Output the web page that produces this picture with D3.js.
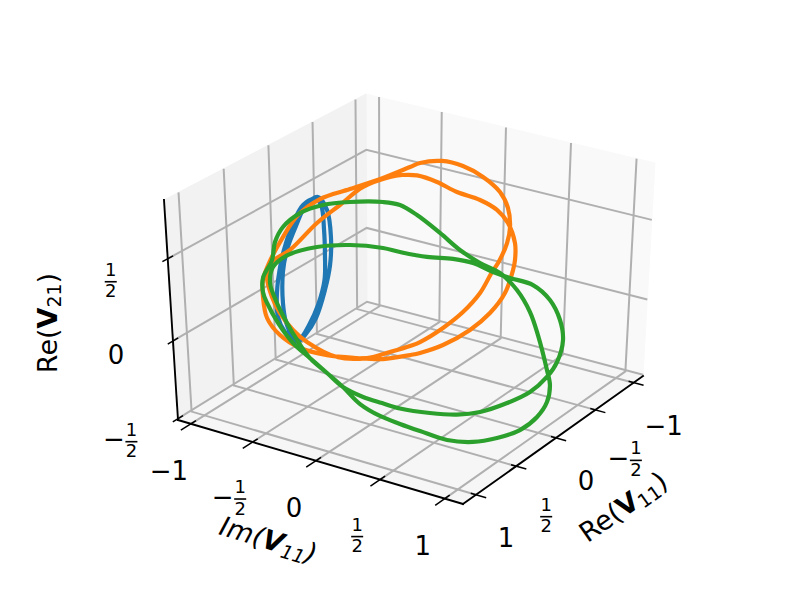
<!DOCTYPE html>
<html><head><meta charset="utf-8">
<style>html,body{margin:0;padding:0;background:#fff}svg{display:block}text{font-family:"DejaVu Sans",sans-serif;fill:#000}</style>
<script src="https://cdn.jsdelivr.net/npm/d3@7/dist/d3.min.js"></script>
</head><body><svg id="c" width="789" height="592"></svg>
<script>
// ---- axis data
const xLim=[-1.13,1.16], yLim=[-1.11,1.14], zLim=[-0.51,0.85];
const xTicks=[-1,-0.5,0,0.5,1], yTicks=[-1,-0.5,0,0.5,1], zTicks=[-0.5,0,0.5];
const xLabel=["Re(","V","11",")"], yLabel=["Im(","V","11",")"], zLabel=["Re(","V","21",")"];
// ---- curves: across = sideways in the view plane, rise = upward in it
const blueAcross=[-.633,-.573,-.547,-.553,-.587,-.647,-.72,-.773,-.853,-.9,-.907,-.88,-.847,-.807,-.733,-.653,-.613,-.593,-.587,-.59,-.633,-.693,-.753,-.807,-.847,-.867,-.867,-.84,-.78,-.713];
const blueRise=[.859,.768,.577,.38,.204,.007,-.113,-.162,-.092,.014,.183,.401,.535,.655,.803,.845,.803,.627,.451,.275,.099,-.042,-.134,-.113,-.021,.113,.331,.486,.655,.803];
const orangeAcross=[-.96,-.867,-.767,-.62,-.42,-.2,-.02,.047,.193,.333,.467,.58,.633,.647,.627,.567,.527,.447,.333,.2,.047,-.02,-.153,-.307,-.507,-.707,-.8,-.887,-.94,-.973,-.94,-.82,-.64,-.487,-.333,-.153,-.073,.027,.16,.293,.447,.56,.633,.68,.68,.667,.613,.513,.38,.2,.047,-.02,-.2,-.373,-.573,-.753,-.887,-.973,-1,-1];
const orangeRise=[.394,.577,.732,.845,.915,.993,1.07,1.099,1.113,1.077,1,.894,.782,.648,.535,.394,.331,.183,.049,-.063,-.162,-.19,-.232,-.275,-.268,-.162,-.077,.042,.155,.296,.401,.486,.676,.803,.93,1,1.014,1.011,.965,.894,.838,.768,.676,.535,.415,.345,.183,.042,-.077,-.183,-.239,-.254,-.282,-.275,-.254,-.204,-.113,.007,.155,.275];
const greenAcross=[-.92,-.867,-.753,-.6,-.42,-.2,-.087,.027,.18,.313,.447,.58,.693,.78,.833,.893,.913,.893,.827,.713,.56,.4,.227,.047,-.087,-.22,-.353,-.467,-.573,-.687,-.773,-.84,-.907,-.953,-.933,-.833,-.64,-.42,-.2,-.087,.093,.267,.4,.533,.647,.8,.913,.98,1,.96,.893,.78,.627,.447,.293,.113,-.087,-.207,-.333,-.467,-.573,-.687,-.8,-.9,-.973,-1,-1,-.94];
const greenRise=[.542,.648,.746,.803,.824,.824,.803,.732,.606,.486,.394,.324,.204,.049,-.113,-.359,-.465,-.585,-.69,-.782,-.838,-.866,-.852,-.789,-.739,-.683,-.599,-.479,-.38,-.275,-.148,-.028,.113,.254,.366,.451,.507,.521,.5,.472,.437,.423,.394,.331,.289,.239,.134,-.007,-.148,-.303,-.408,-.514,-.592,-.655,-.673,-.662,-.63,-.592,-.549,-.479,-.38,-.275,-.169,-.028,.113,.19,.289,.415];

// ---- scales along the box edges; the power exponent stands in for perspective foreshortening
const xS=d3.scalePow().exponent(1.03).domain([0,1]).range([0,1]);
const yS=d3.scalePow().exponent(1.026).domain([0,1]).range([0,1]);
const zS=d3.scalePow().exponent(1.044).domain([0,1]).range([0,1]);
const xN=d3.scaleLinear().domain(xLim).range([0,1]);
const yN=d3.scaleLinear().domain(yLim).range([0,1]);
const zN=d3.scaleLinear().domain(zLim).range([0,1]);
// the box in the picture, indexed [x high][y high][z high]
const box=[[[[367,303],[366,94]],[[643,376],[655,163]]],
           [[[178,420],[164,200]],[[463,504],[462,287]]]];
const mix=(a,b,t)=>[a[0]+(b[0]-a[0])*t,a[1]+(b[1]-a[1])*t];
function P(x,y,z){
  const a=xS(Math.max(0,xN(x))),b=yS(Math.max(0,yN(y))),c=zS(Math.max(0,zN(z)));
  const ea=xN(x)>1?xN(x)-1:0, eb=yN(y)>1?yN(y)-1:0;
  return mix(mix(mix(box[0][0][0],box[0][0][1],c),mix(box[0][1][0],box[0][1][1],c),b+eb),
             mix(mix(box[1][0][0],box[1][0][1],c),mix(box[1][1][0],box[1][1][1],c),b+eb),a+ea);
}
const planeX=d3.scaleLinear().domain([-1,1]).range([263,563]);
const planeY=d3.scaleLinear().domain([-1,1]).range([461,177]);

const svg=d3.select("#c");
const [x0,x1]=xLim,[y0,y1]=yLim,[z0,z1]=zLim;
const line=d3.line();
const poly=pts=>line(pts)+"Z";
// panes
[{c:"#f9f9f9",p:[P(x0,y0,z0),P(x0,y1,z0),P(x0,y1,z1),P(x0,y0,z1)]},
 {c:"#f2f2f2",p:[P(x0,y0,z0),P(x1,y0,z0),P(x1,y0,z1),P(x0,y0,z1)]},
 {c:"#f6f6f6",p:[P(x0,y0,z0),P(x1,y0,z0),P(x1,y1,z0),P(x0,y1,z0)]}]
 .forEach(d=>svg.append("path").attr("d",poly(d.p)).attr("fill",d.c).attr("stroke",d.c).attr("stroke-width",1));
// grid
const grid=[];
xTicks.forEach(t=>grid.push([P(t,y1,z0),P(t,y0,z0),P(t,y0,z1)]));
yTicks.forEach(t=>grid.push([P(x1,t,z0),P(x0,t,z0),P(x0,t,z1)]));
zTicks.forEach(t=>grid.push([P(x1,y0,t),P(x0,y0,t),P(x0,y1,t)]));
svg.append("g").selectAll("path").data(grid).join("path").attr("d",line).attr("fill","none").attr("stroke","#b0b0b0").attr("stroke-width",2);
// axis lines and ticks
const black=[[P(x0,y1,z0),P(x1,y1,z0)],[P(x1,y0,z0),P(x1,y1,z0)],[P(x1,y0,z0),P(x1,y0,z1)]];
svg.append("g").selectAll("path").data(black).join("path").attr("d",line).attr("fill","none").attr("stroke","#000").attr("stroke-width",1.9).attr("stroke-linecap","square");
const tk=[];
xTicks.forEach(t=>tk.push([P(t,y1-0.04,z0),P(t,y1+0.04,z0)]));
yTicks.forEach(t=>tk.push([P(x1-0.06,t,z0),P(x1+0.06,t,z0)]));
zTicks.forEach(t=>{const a=P(x1-0.06,y0,t),b=P(x1,y0,t);tk.push([a,[2*b[0]-a[0],2*b[1]-a[1]]]);});
svg.append("g").selectAll("path").data(tk).join("path").attr("d",line).attr("fill","none").attr("stroke","#000").attr("stroke-width",1.5);
// curves
const closed=d3.line().curve(d3.curveCatmullRomClosed.alpha(0.5));
[[blueAcross,blueRise,"#1f77b4"],[orangeAcross,orangeRise,"#ff7f0e"],[greenAcross,greenRise,"#2ca02c"]].forEach(([a,r,c])=>{
  svg.append("path").attr("d",closed(a.map((d,i)=>[planeX(d),planeY(r[i])]))).attr("fill","none").attr("stroke",c).attr("stroke-width",4.2).attr("stroke-linejoin","round");
});
// tick labels
function tickLabel(val,pt,offInt,offFrac){
  const frac=Math.abs(val)===0.5, neg=val<0;
  if(!frac){
    const s=(neg?"\u2212":"")+Math.abs(val);
    svg.append("text").attr("x",pt[0]+offInt[0]).attr("y",pt[1]+offInt[1]+9.5).attr("text-anchor","middle").attr("font-size",26).text(s);
    return;
  }
  const cx=pt[0]+offFrac[0]+(neg?10.5:0), by=pt[1]+offFrac[1];
  svg.append("text").attr("x",cx).attr("y",by-6).attr("text-anchor","middle").attr("font-size",18).text("1");
  svg.append("rect").attr("x",cx-6).attr("y",by-0.8).attr("width",12).attr("height",1.6).attr("fill","#000");
  svg.append("text").attr("x",cx).attr("y",by+15.5).attr("text-anchor","middle").attr("font-size",18).text("2");
  if(neg) svg.append("text").attr("x",cx-17.5).attr("y",by-3+9.5).attr("text-anchor","middle").attr("font-size",26).text("\u2212");
}
xTicks.forEach(t=>tickLabel(t,P(t,y1,z0),[30,42.5],[30,50.5]));
yTicks.forEach(t=>tickLabel(t,P(x1,t,z0),[-22,47],[-23,57]));
zTicks.forEach(t=>tickLabel(t,P(x1,y0,t),[-57,14],[-57,23]));
// axis titles
function title(parts,cx,cy,rot,italic){
  const g=svg.append("g").attr("transform",`translate(${cx},${cy}) rotate(${rot})`);
  const t=g.append("text").attr("text-anchor","middle").attr("y",8).attr("font-size",27).attr("font-style",italic?"italic":"normal");
  t.append("tspan").text(parts[0]);
  t.append("tspan").attr("font-weight","bold").text(parts[1]);
  t.append("tspan").attr("font-size",19).attr("dy",4).text(parts[2]);
  t.append("tspan").attr("dy",-4).text(parts[3]);
}
title(xLabel,624,508,-35,false);
title(yLabel,268,541,17,true);
title(zLabel,49,323,-90,false);
</script></body></html>
